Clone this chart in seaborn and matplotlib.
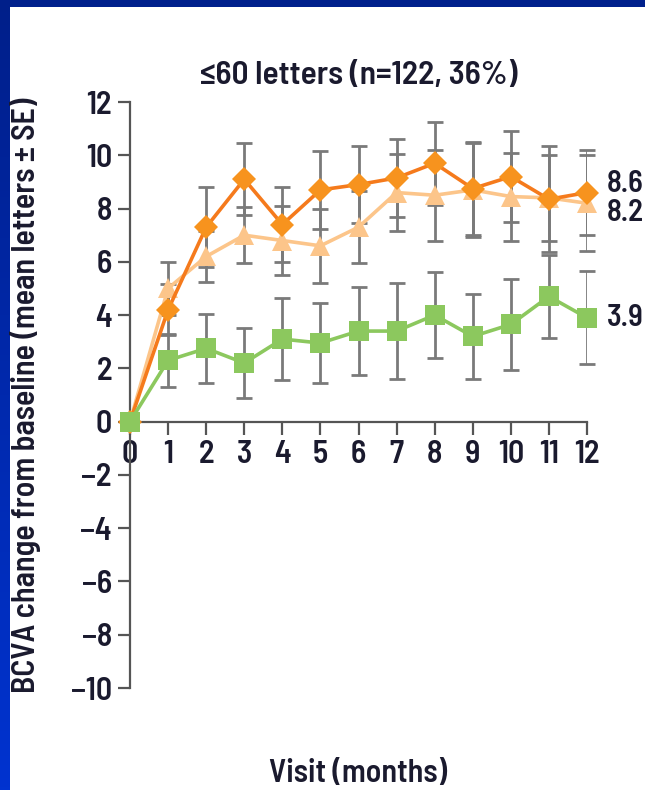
import numpy as np
import pandas as pd
import matplotlib
matplotlib.use("Agg")
import matplotlib.pyplot as plt
from matplotlib import font_manager as fm
from matplotlib.patches import Rectangle
from matplotlib.colors import LinearSegmentedColormap
import seaborn as sns

# ---- data ----
months = list(range(13))
diamond_mean = [0, 4.2, 7.3, 9.1, 7.4, 8.7, 8.9, 9.15, 9.7, 8.75, 9.2, 8.35, 8.6]
diamond_se = [0, 0.95, 1.5, 1.35, 1.4, 1.45, 1.45, 1.45, 1.55, 1.75, 1.7, 2.0, 1.6]
triangle_mean = [0, 5.0, 6.2, 7.0, 6.8, 6.6, 7.3, 8.6, 8.5, 8.7, 8.45, 8.4, 8.2]
triangle_se = [0, 1.0, 0.95, 1.05, 1.3, 1.4, 1.35, 1.45, 1.7, 1.75, 1.65, 1.6, 1.8]
square_mean = [0, 2.3, 2.75, 2.2, 3.1, 2.95, 3.4, 3.4, 4.0, 3.2, 3.65, 4.7, 3.9]
square_se = [0, 1.0, 1.3, 1.3, 1.55, 1.5, 1.65, 1.8, 1.6, 1.6, 1.7, 1.55, 1.75]
end_labels = ["8.6", "8.2", "3.9"]
yticks = list(range(-10, 13, 2))
xticks = months
title = "\u226460 letters (n=122, 36%)"
ylabel = "BCVA change from baseline (mean letters \u00b1 SE)"
xlabel = "Visit (months)"

sns.set_theme(style="ticks")
plt.rcParams["font.family"] = ["DejaVu Sans"]


def pick_condensed():
    best, best_score = None, None
    for f in fm.fontManager.ttflist:
        nm = (f.name + " " + f.fname).lower()
        flat = nm.replace(" ", "").replace("-", "").replace("_", "")
        if "mono" in nm or "cjk" in nm:
            continue
        if f.style != "normal" or "italic" in nm or "oblique" in nm:
            continue
        cond = ("narrow" in nm or "condensed" in nm or
                str(f.stretch) in ("condensed", "semi-condensed", "extra-condensed"))
        if not cond:
            continue
        if "extracondensed" in flat or "ultra" in flat:
            pen = 3
        elif "semicondensed" in flat or str(f.stretch) == "semi-condensed":
            pen = 0
        else:
            pen = 1
        try:
            w = int(f.weight)
        except Exception:
            w = {"normal": 400, "regular": 400, "bold": 700, "medium": 500,
                 "semibold": 600, "light": 300}.get(str(f.weight), 400)
        score = pen * 1000 + abs(w - 600)
        if best_score is None or score < best_score:
            best, best_score = f.fname, score
    return best


path = pick_condensed()
if path:
    FP = lambda size: fm.FontProperties(fname=path, size=size)
    scale = 1.0
else:
    FP = lambda size: fm.FontProperties(family=["Roboto", "DejaVu Sans"], size=size)
    scale = 0.8

TXT = "#1a1a2e"
fig = plt.figure(figsize=(6.45, 7.9), dpi=100, facecolor="white")

# blue slide frame
bg = fig.add_axes([0, 0, 10 / 645, 1])
grad = np.linspace(0, 1, 256).reshape(-1, 1)
cmap = LinearSegmentedColormap.from_list("b", ["#001f8a", "#0033d0"])
bg.imshow(grad, aspect="auto", cmap=cmap)
bg.axis("off")
fig.add_artist(Rectangle((0, 1 - 7 / 790), 1, 7 / 790, transform=fig.transFigure,
                         facecolor="#00208c", edgecolor="none", zorder=0))

ax = fig.add_axes([130 / 645, 1 - 688 / 790, 457 / 645, 586 / 790])
ax.set_facecolor("white")

series = [
    ("tri", triangle_mean, triangle_se, "#FCC58A", "#FCC58A", "^", 15),
    ("dia", diamond_mean, diamond_se, "#F7931E", "#F57A1C", "D", 12),
    ("sq", square_mean, square_se, "#8CC85E", "#8CC85E", "s", 14),
]

for z, (name, mean, se, mcol, lcol, mk, ms) in enumerate(series):
    _, caps, bars = ax.errorbar(months, mean, yerr=se, fmt="none", ecolor="#7a7a7a",
                                elinewidth=2, capsize=5.5, capthick=2, zorder=1 + z * 0.1)
    for c in caps:
        c.set_color("#222222")
        c.set_clip_on(False)

for z, (name, mean, se, mcol, lcol, mk, ms) in enumerate(series):
    df = pd.DataFrame({"month": months, "value": mean})
    sns.lineplot(data=df, x="month", y="value", ax=ax, color=lcol, lw=2.6,
                 marker=mk, markersize=ms, markerfacecolor=mcol, markeredgewidth=0,
                 clip_on=False, zorder=3 + z)

offsets = [6, -7, 0]
for (name, mean, se, mcol, lcol, mk, ms), lab, dy in zip(
        [series[1], series[0], series[2]], end_labels, offsets):
    ax.annotate(lab, xy=(months[-1], mean[-1]), xytext=(14, dy), textcoords="offset points",
                ha="left", va="center", fontproperties=FP(22 * scale), color=TXT,
                annotation_clip=False)

for s in ["top", "right"]:
    ax.spines[s].set_visible(False)
ax.spines["bottom"].set_position(("data", 0))
for s in ["bottom", "left"]:
    ax.spines[s].set_color("#555555")
    ax.spines[s].set_linewidth(1.6)

ax.set_xlim(0, 12)
ax.set_ylim(-10, 12)
ax.set_xticks(xticks)
ax.set_yticks(yticks)
ax.set_xticklabels([str(v) for v in xticks], fontproperties=FP(23 * scale), color=TXT)
ax.set_yticklabels([str(v).replace("-", "\u2212") for v in yticks],
                   fontproperties=FP(23 * scale), color=TXT)
ax.tick_params(direction="out", length=9, width=1.6, color="#555555", pad=4)
ax.grid(False)

ax.set_title(title, fontproperties=FP(24 * scale), color=TXT, pad=13)
ax.set_ylabel(ylabel, fontproperties=FP(23 * scale), color=TXT)
ax.yaxis.set_label_coords(-0.195, 0.5)
ax.set_xlabel(xlabel, fontproperties=FP(23 * scale), color=TXT)
ax.xaxis.set_label_coords(0.5, -0.122)

fig.savefig("out.png", dpi=100, facecolor="white")
